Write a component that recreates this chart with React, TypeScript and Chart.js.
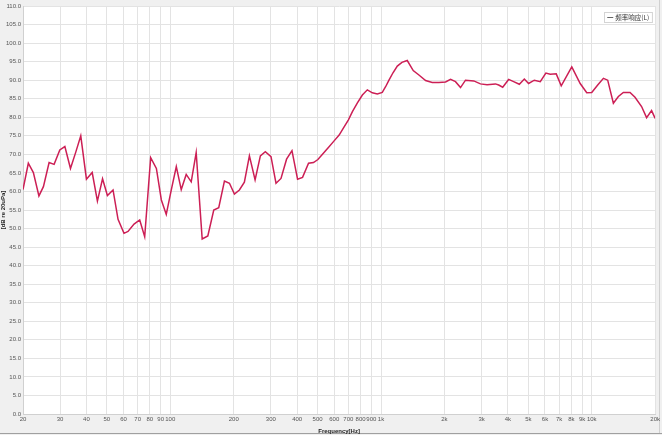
import React, { useEffect, useRef } from "react";
import { Chart, registerables } from "chart.js";

Chart.register(...registerables);

const seriesLabel = "频率响应(L)";

const frequencies = [
  20.0, 21.2, 22.4, 23.8, 25.0, 26.6, 28.1, 29.9, 31.6, 33.6, 35.6, 37.6,
  40.0, 42.6, 45.1, 47.7, 50.3, 53.5, 56.5, 60.3, 63.0, 67.3, 71.6, 75.6,
  80.7, 85.9, 90.7, 95.7, 101.1, 106.8, 112.7, 119.0, 125.7, 132.7, 141.7,
  150.7, 160.8, 169.8, 180.7, 190.9, 201.5, 212.8, 224.7, 237.4, 252.6,
  267.6, 282.5, 300.6, 317.5, 335.3, 356.3, 378.0, 401.8, 424.3, 453.0,
  478.2, 501.8, 528.8, 561.5, 596.1, 632.9, 668.3, 700.4, 731.6, 772.6,
  815.7, 861.4, 909.6, 960.6, 1014, 1053, 1091, 1140, 1195, 1257, 1332,
  1422, 1513, 1628, 1750, 1882, 2024, 2138, 2257, 2384, 2517, 2756, 2964,
  3186, 3491, 3618, 3780, 4034, 4260, 4534, 4788, 5017, 5340, 5700, 6058,
  6355, 6785, 7166, 8041, 8816, 9470, 10000, 10676, 11362, 11906, 12668,
  13380, 14126, 15196, 16048, 17242, 18212, 19232, 20000,
];

const levels = [
  60.5, 67.6, 65.1, 58.8, 61.3, 67.8, 67.3, 71.2, 72.1, 66.2, 70.6, 75.0,
  63.3, 65.1, 57.4, 63.4, 58.9, 60.4, 52.5, 48.7, 49.2, 51.2, 52.3, 47.8,
  69.1, 66.2, 57.7, 53.8, 60.4, 66.7, 60.5, 64.6, 62.6, 70.5, 47.2,
  48.0, 55.0, 55.6, 62.8, 62.2, 59.3, 60.4, 62.5, 69.6, 63.1,
  69.6, 70.7, 69.4, 62.2, 63.5, 68.7, 71.0, 63.3, 63.8, 67.6,
  67.8, 68.6, 70.1, 71.8, 73.5, 75.2, 77.4, 79.3, 81.5, 83.9,
  86.0, 87.4, 86.6, 86.3, 86.7, 88.3, 90.0, 92.0, 93.8, 94.8, 95.3,
  92.6, 91.4, 89.9, 89.4, 89.4, 89.5, 90.2, 89.6, 88.0, 90.0, 89.8, 89.0,
  88.8, 89.0, 88.7, 88.1, 90.2, 89.6, 88.9, 90.3, 89.1, 90.0, 89.6, 91.9,
  91.6, 91.7, 88.5, 93.6, 89.1, 86.6, 86.7, 88.7, 90.5, 90.0, 83.8,
  85.6, 86.7, 86.7, 85.4, 82.9, 79.9, 81.8, 79.7,
];

const xTickValues = [
  20, 30, 40, 50, 60, 70, 80, 90, 100, 200, 300, 400, 500, 600, 700, 800,
  900, 1000, 2000, 3000, 4000, 5000, 6000, 7000, 8000, 9000, 10000, 20000,
];
const xTickLabels = [
  "20", "30", "40", "50", "60", "70", "80", "90", "100", "200", "300", "400",
  "500", "600", "700", "800", "900", "1k", "2k", "3k", "4k", "5k", "6k", "7k",
  "8k", "9k", "10k", "20k",
];

const xTitle = "Frequency[Hz]";
const yTitle = "[dB re 20uPa]";

const tickFont = { family: "'Liberation Sans Narrow', 'Liberation Sans', sans-serif", size: 6 };
const titleFont = { family: "'Liberation Sans', sans-serif", size: 6, weight: "bold" as const };

const framePlugin = {
  id: "frame",
  beforeDraw(chart: any) {
    const { ctx, width, height, chartArea } = chart;
    ctx.save();
    ctx.fillStyle = "#f0f0f0";
    ctx.fillRect(0, 0, width, height);
    ctx.fillStyle = "#ffffff";
    ctx.fillRect(chartArea.left, chartArea.top, chartArea.right - chartArea.left, chartArea.bottom - chartArea.top);
    ctx.strokeStyle = "#a0a0a0";
    ctx.lineWidth = 1;
    ctx.beginPath();
    ctx.moveTo(0, height - 1.5);
    ctx.lineTo(width, height - 1.5);
    ctx.stroke();
    ctx.strokeStyle = "#d0d0d0";
    ctx.beginPath();
    ctx.moveTo(width - 2.5, 0);
    ctx.lineTo(width - 2.5, height - 2);
    ctx.stroke();
    ctx.restore();
  },
  afterDraw(chart: any) {
    const { ctx, chartArea } = chart;
    const label = chart.data.datasets[0].label as string;
    ctx.save();
    ctx.font = "6.5px 'Noto Sans CJK SC', sans-serif";
    const tw = ctx.measureText(label).width;
    const boxW = tw + 14;
    const boxH = 10;
    const bx = chartArea.right - 3 - boxW;
    const by = chartArea.top + 6;
    ctx.fillStyle = "#ffffff";
    ctx.fillRect(bx, by, boxW, boxH);
    ctx.strokeStyle = "#d4d4d4";
    ctx.lineWidth = 1;
    ctx.strokeRect(Math.round(bx) + 0.5, Math.round(by) + 0.5, boxW, boxH);
    ctx.strokeStyle = "#666666";
    ctx.beginPath();
    ctx.moveTo(bx + 3, by + boxH / 2 + 0.5);
    ctx.lineTo(bx + 9, by + boxH / 2 + 0.5);
    ctx.stroke();
    ctx.fillStyle = "#333333";
    ctx.textBaseline = "middle";
    ctx.fillText(label, bx + 11, by + boxH / 2 + 0.5);
    ctx.restore();
  },
};

export default function App() {
  const canvasRef = useRef<HTMLCanvasElement | null>(null);

  useEffect(() => {
    document.body.style.margin = "0";
    const canvas = canvasRef.current;
    if (!canvas) return;
    const chart = new Chart(canvas, {
      type: "line",
      data: {
        datasets: [
          {
            label: seriesLabel,
            data: frequencies.map((f, i) => ({ x: f, y: levels[i] })),
            borderColor: "#cc1f55",
            borderWidth: 1.5,
            pointRadius: 0,
            tension: 0,
            fill: false,
          },
        ],
      },
      options: {
        animation: false,
        responsive: false,
        devicePixelRatio: 1,
        layout: { padding: { top: 6, right: 5, left: 0, bottom: 0 } },
        plugins: {
          legend: { display: false },
          tooltip: { enabled: false },
        },
        scales: {
          x: {
            type: "logarithmic",
            min: 20,
            max: 20000,
            afterBuildTicks: (scale: any) => {
              scale.ticks = xTickValues.map((v) => ({ value: v }));
            },
            afterFit: (scale: any) => {
              scale.height = 21;
            },
            ticks: {
              autoSkip: false,
              maxRotation: 0,
              font: tickFont,
              color: "#555555",
              padding: 2,
              callback: (value: any) => {
                const idx = xTickValues.indexOf(Number(value));
                return idx >= 0 ? xTickLabels[idx] : "";
              },
            },
            grid: { color: "#e3e3e3", drawTicks: false },
            border: { color: "#d0d0d0" },
            title: { display: true, text: xTitle, font: titleFont, color: "#222222", padding: { top: 1, bottom: 0 } },
          },
          y: {
            type: "linear",
            min: 0,
            max: 110,
            afterFit: (scale: any) => {
              scale.width = 23;
            },
            ticks: {
              stepSize: 5,
              font: tickFont,
              color: "#555555",
              padding: 2,
              callback: (value: any) => Number(value).toFixed(1),
            },
            grid: { color: "#e3e3e3", drawTicks: false },
            border: { color: "#d0d0d0" },
            title: { display: true, text: yTitle, font: titleFont, color: "#222222", padding: { top: 0, bottom: 0 } },
          },
        },
      },
      plugins: [framePlugin],
    });
    return () => chart.destroy();
  }, []);

  return <canvas ref={canvasRef} width={662} height={435} style={{ display: "block" }} />;
}
